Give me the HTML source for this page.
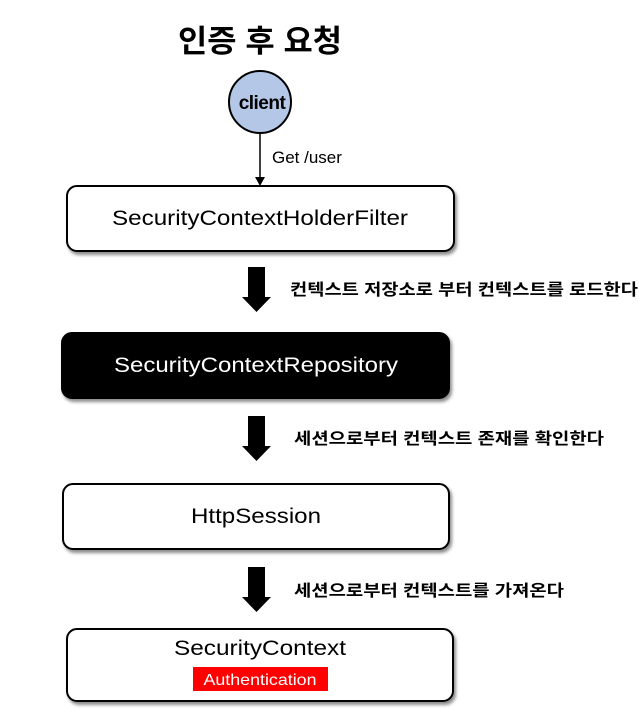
<!DOCTYPE html>
<html><head><meta charset="utf-8"><style>
html,body{margin:0;padding:0;background:#fff;}
svg{display:block}
</style></head><body>
<svg width="639" height="708" viewBox="0 0 639 708" xmlns="http://www.w3.org/2000/svg">
<defs>
<filter id="sh" x="-5%" y="-10%" width="110%" height="130%"><feDropShadow dx="2" dy="3" stdDeviation="1.5" flood-color="#000" flood-opacity="0.45"/></filter>
</defs>
<g font-family="'Liberation Sans','Noto Sans CJK KR',sans-serif">
<text x="260" y="52" text-anchor="middle" font-size="31" font-weight="bold" textLength="164" lengthAdjust="spacingAndGlyphs">인증 후 요청</text>
<circle cx="260" cy="102" r="31" fill="#b4c7e7" stroke="#000" stroke-width="2"/>
<text x="262" y="109" text-anchor="middle" font-size="19" font-weight="bold" letter-spacing="-0.5">client</text>
<line x1="260" y1="133" x2="260" y2="178" stroke="#000" stroke-width="1.5"/>
<polygon points="255,177 265,177 260,186" fill="#000"/>
<text x="272" y="163" font-size="17">Get /user</text>

<rect x="67" y="186" width="387" height="65" rx="10" fill="#fff" stroke="#000" stroke-width="2" filter="url(#sh)"/>
<text x="260" y="225" text-anchor="middle" font-size="21" textLength="296" lengthAdjust="spacingAndGlyphs">SecurityContextHolderFilter</text>

<rect x="62" y="333" width="387" height="65" rx="10" fill="#000" stroke="#000" stroke-width="2" filter="url(#sh)"/>
<text x="256" y="372" text-anchor="middle" font-size="21" fill="#fff" textLength="284" lengthAdjust="spacingAndGlyphs">SecurityContextRepository</text>

<rect x="63" y="484" width="386" height="65" rx="10" fill="#fff" stroke="#000" stroke-width="2" filter="url(#sh)"/>
<text x="256" y="523" text-anchor="middle" font-size="21" textLength="130" lengthAdjust="spacingAndGlyphs">HttpSession</text>

<rect x="67" y="629" width="386" height="72" rx="10" fill="#fff" stroke="#000" stroke-width="2" filter="url(#sh)"/>
<text x="260" y="655" text-anchor="middle" font-size="21" textLength="172" lengthAdjust="spacingAndGlyphs">SecurityContext</text>
<rect x="193" y="667" width="135" height="24" fill="#ff0000"/>
<text x="260" y="685" text-anchor="middle" font-size="16" fill="#fff" textLength="113" lengthAdjust="spacingAndGlyphs">Authentication</text>

<g fill="#000">
<polygon points="248,267 265,267 265,297 271,297 256.5,312 242,297 248,297"/>
<polygon points="248,416 265,416 265,446 271,446 256.5,461 242,446 248,446"/>
<polygon points="248,567 265,567 265,597 271,597 256.5,612 242,597 248,597"/>
</g>
<g font-size="16" font-weight="bold">
<text x="290" y="295" textLength="348" lengthAdjust="spacingAndGlyphs">컨텍스트 저장소로 부터 컨텍스트를 로드한다</text>
<text x="294" y="444" textLength="310" lengthAdjust="spacingAndGlyphs">세션으로부터 컨텍스트 존재를 확인한다</text>
<text x="294" y="596" textLength="270" lengthAdjust="spacingAndGlyphs">세션으로부터 컨텍스트를 가져온다</text>
</g>
</g>
</svg>
</body></html>
